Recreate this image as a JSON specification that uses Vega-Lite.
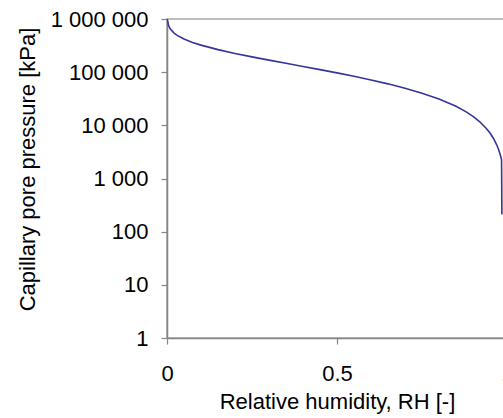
{
  "$schema": "https://vega.github.io/schema/vega-lite/v6.json",
  "width": 340,
  "height": 319,
  "autosize": {"type": "none"},
  "padding": {"left": 167, "top": 19, "right": -4, "bottom": 80},
  "background": "white",
  "data": {
    "values": [
      {"rh": 0.0, "p": 1000000},
      {"rh": 0.001, "p": 967000},
      {"rh": 0.005, "p": 741800},
      {"rh": 0.01, "p": 644700},
      {"rh": 0.02, "p": 547700},
      {"rh": 0.03, "p": 490900},
      {"rh": 0.05, "p": 419400},
      {"rh": 0.075, "p": 362600},
      {"rh": 0.1, "p": 322400},
      {"rh": 0.15, "p": 265600},
      {"rh": 0.2, "p": 225300},
      {"rh": 0.25, "p": 194100},
      {"rh": 0.3, "p": 168600},
      {"rh": 0.35, "p": 147000},
      {"rh": 0.4, "p": 128300},
      {"rh": 0.45, "p": 111800},
      {"rh": 0.5, "p": 97000},
      {"rh": 0.55, "p": 83700},
      {"rh": 0.6, "p": 71500},
      {"rh": 0.65, "p": 60300},
      {"rh": 0.7, "p": 49900},
      {"rh": 0.75, "p": 40300},
      {"rh": 0.8, "p": 31200},
      {"rh": 0.85, "p": 22800},
      {"rh": 0.88, "p": 17900},
      {"rh": 0.9, "p": 14750},
      {"rh": 0.92, "p": 11670},
      {"rh": 0.94, "p": 8660},
      {"rh": 0.95, "p": 7180},
      {"rh": 0.96, "p": 5720},
      {"rh": 0.97, "p": 4260},
      {"rh": 0.975, "p": 3540},
      {"rh": 0.98, "p": 2830},
      {"rh": 0.984, "p": 2260},
      {"rh": 0.985, "p": 210}
    ]
  },
  "mark": {"type": "line", "color": "#35359a", "strokeWidth": 1.6, "clip": true},
  "encoding": {
    "x": {
      "field": "rh",
      "type": "quantitative",
      "scale": {"domain": [0, 1], "nice": false, "zero": false},
      "axis": {
        "title": "Relative humidity, RH [-]",
        "values": [0, 0.5, 1],
        "labelExpr": "datum.value == 0.5 ? '0.5' : format(datum.value, 'd')",
        "labelBaseline": "alphabetic",
        "labelPadding": 36,
        "labelFlush": false,
        "titleBaseline": "alphabetic",
        "titleY": 70
      }
    },
    "y": {
      "field": "p",
      "type": "quantitative",
      "scale": {"type": "log", "domain": [1, 1000000], "nice": false},
      "axis": {
        "title": "Capillary pore pressure [kPa]",
        "values": [1, 10, 100, 1000, 10000, 100000, 1000000],
        "labelExpr": "replace(format(datum.value, ','), /,/g, ' ')",
        "labelPadding": 13,
        "labelFlush": false,
        "titleAngle": 270,
        "titleBaseline": "middle",
        "titleX": -140,
        "titleY": 150
      }
    }
  },
  "config": {
    "view": {"stroke": "#a8a8a8", "strokeWidth": 1.5},
    "axis": {
      "grid": false,
      "domainColor": "#858585",
      "domainWidth": 1.5,
      "tickColor": "#858585",
      "tickWidth": 1.2,
      "tickSize": 6,
      "labelFont": "Liberation Sans",
      "labelFontSize": 22,
      "labelColor": "#000000",
      "titleFont": "Liberation Sans",
      "titleFontSize": 22,
      "titleFontWeight": "normal",
      "titleColor": "#000000"
    }
  }
}
